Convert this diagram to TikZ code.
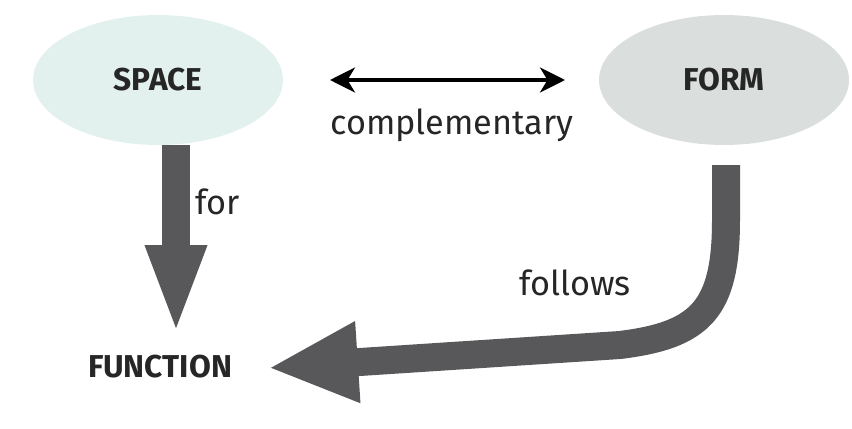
\documentclass[tikz,border=0pt]{standalone}
\usepackage{fontspec}
\setmainfont{Fira Sans}
\usetikzlibrary{arrows.meta,shapes.geometric}
\definecolor{mint}{HTML}{E3F1EE}
\definecolor{pale}{HTML}{DADEDD}
\definecolor{fat}{HTML}{58585A}
\begin{document}
\begin{tikzpicture}
[x=0.02cm,y=-0.02cm,
 idea/.style={ellipse,minimum width=5cm,minimum height=2.6cm,inner sep=0mm,font=\bfseries\fontsize{18}{21}\selectfont,text=black!85},
 word/.style={font=\fontsize{19.5}{22}\selectfont,text=black!85},
 fatarrow/.style={draw=fat,line width=0.56cm}]
\useasboundingbox (0,0) rectangle (852,429);
\node[idea,fill=mint] (space) at (158,80)  {SPACE};
\node[idea,fill=pale] (form)  at (724,80)  {FORM};
\node[font=\bfseries\fontsize{18}{21}\selectfont,text=black!85] (func) at (160,367) {FUNCTION};
\coordinate (cl) at (330,80);
\coordinate (cr) at (565,80);
\draw[line width=2.2pt,{Stealth[length=5mm,width=5mm,inset=1.5mm]}-{Stealth[length=5mm,width=5mm,inset=1.5mm]}] (cl) -- (cr);
\node[word] (comp)    at (452,125) {complementary};
\node[word] (for)     at (218,202) {for};
\node[word] (follows) at (575,283) {follows};
\coordinate (sb) at (176,145);
\coordinate (ft) at (176,335);
\draw[fatarrow,-{Triangle[length=1.8cm,width=1.1cm]}] (sb) -- (ft);
\coordinate (fb) at (726,165);
\coordinate (fe) at (268,368);
\draw[fatarrow,-{Triangle[length=1.8cm,width=1.5cm]}] (fb) -- (726,220) .. controls (726,310) and (700,335) .. (620,345) -- (fe);
\end{tikzpicture}
\end{document}
